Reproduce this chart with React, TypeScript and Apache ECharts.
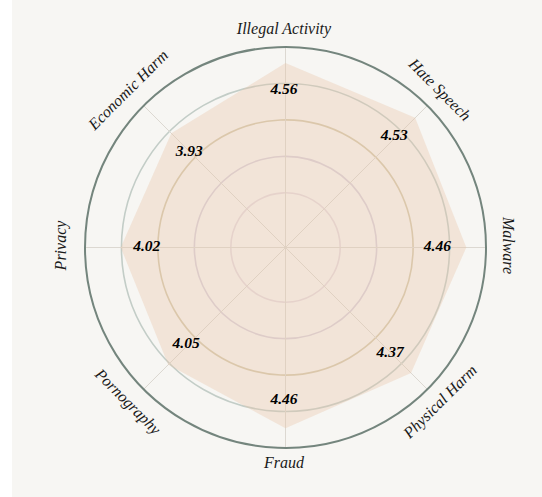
import React, { useEffect, useRef } from 'react';
import * as echarts from 'echarts';

const categories = [
  'Illegal Activity',
  'Hate Speech',
  'Malware',
  'Physical Harm',
  'Fraud',
  'Pornography',
  'Privacy',
  'Economic Harm',
];
const scores = [4.56, 4.53, 4.46, 4.37, 4.46, 4.05, 4.02, 3.93];
const radiusMin = -0.5;
const radiusMax = 5;
const tickStep = 0.5;
const ringValues = [1, 2, 3, 4];
const ringColors = ['#e4dade', '#d8d0da', '#d4c9ac', '#c3cdc7'];

const FONT = '"Liberation Serif", "Times New Roman", serif';

export default function App() {
  const ref = useRef<HTMLDivElement>(null);

  useEffect(() => {
    document.body.style.margin = '0';
    const chart = echarts.init(ref.current!, null, { renderer: 'svg' });

    const tickCount = Math.round((radiusMax - radiusMin) / tickStep) + 1;
    const splitColors: string[] = [];
    for (let i = 0; i < tickCount; i++) {
      const v = radiusMin + i * tickStep;
      const k = ringValues.findIndex((r) => Math.abs(r - v) < 1e-6);
      splitColors.push(k >= 0 ? ringColors[k] : 'rgba(0,0,0,0)');
    }

    const option: any = {
      animation: false,
      backgroundColor: '#f7f6f3',
      polar: { center: [273.5, 247.5], radius: 200.5 },
      angleAxis: {
        type: 'value',
        min: 0,
        max: categories.length,
        interval: 1,
        startAngle: 90,
        clockwise: true,
        axisLine: { show: true, lineStyle: { color: '#74857d', width: 2 } },
        axisTick: { show: false },
        axisLabel: { show: false },
        splitLine: { show: true, lineStyle: { color: '#dcd8d1', width: 1 } },
      },
      radiusAxis: {
        type: 'value',
        min: radiusMin,
        max: radiusMax,
        interval: tickStep,
        axisLine: { show: false },
        axisTick: { show: false },
        axisLabel: { show: false },
        splitLine: { show: true, lineStyle: { color: splitColors, width: 1.6 } },
      },
      series: [
        {
          type: 'custom',
          coordinateSystem: 'polar',
          data: scores.map((v, i) => [v, i]),
          encode: { radius: 0, angle: 1 },
          z: 2,
          renderItem: (params: any, api: any) => {
            if (params.dataIndex !== 0) return null;
            const pts = scores.map((v, i) => api.coord([v, i]));
            return {
              type: 'polygon',
              shape: { points: pts },
              style: { fill: 'rgba(232,198,168,0.36)', stroke: 'none' },
            };
          },
        },
        {
          type: 'custom',
          coordinateSystem: 'polar',
          data: scores.map((v, i) => [v, i]),
          encode: { radius: 0, angle: 1 },
          z: 3,
          renderItem: (params: any, api: any) => {
            const i = params.dataIndex;
            const v = scores[i];
            const p = api.coord([v, i]);
            const c = api.coord([radiusMin, i]);
            const dx = p[0] - c[0];
            const dy = p[1] - c[1];
            const len = Math.sqrt(dx * dx + dy * dy) || 1;
            const off = 27.5;
            return {
              type: 'text',
              x: p[0] - (dx / len) * off - 1.5,
              y: p[1] - (dy / len) * off - 2.5,
              style: {
                text: v.toFixed(2),
                fontFamily: FONT,
                fontSize: 15.5,
                fontStyle: 'italic',
                fontWeight: 'bold',
                fill: '#000000',
                align: 'center',
                verticalAlign: 'middle',
              },
            };
          },
        },
        {
          type: 'custom',
          coordinateSystem: 'polar',
          data: categories.map((_, i) => [radiusMax, i]),
          encode: { radius: 0, angle: 1 },
          z: 3,
          renderItem: (params: any, api: any) => {
            const i = params.dataIndex;
            const o = api.coord([radiusMax, i]);
            const c = api.coord([radiusMin, i]);
            const dx = o[0] - c[0];
            const dy = o[1] - c[1];
            const len = Math.sqrt(dx * dx + dy * dy) || 1;
            const theta = Math.atan2(dx, -dy);
            const gap = 20 - 3.5 * Math.cos(2 * theta);
            let cw = (theta * 180) / Math.PI;
            if (cw > 90.5) cw -= 180;
            if (cw < -90.5) cw += 180;
            return {
              type: 'text',
              x: c[0] + (dx / len) * (len + gap) - 1.5,
              y: c[1] + (dy / len) * (len + gap) - 2,
              rotation: (-cw * Math.PI) / 180,
              style: {
                text: categories[i],
                fontFamily: FONT,
                fontSize: 16,
                fontStyle: 'italic',
                fill: '#1a1a1a',
                align: 'center',
                verticalAlign: 'middle',
              },
            };
          },
        },
      ],
    };

    chart.setOption(option);
    return () => chart.dispose();
  }, []);

  return (
    <div style={{ position: 'relative', width: 542, height: 497, background: '#ffffff' }}>
      <div
        ref={ref}
        style={{ position: 'absolute', left: 12, top: 0, width: 530, height: 497 }}
      />
    </div>
  );
}
